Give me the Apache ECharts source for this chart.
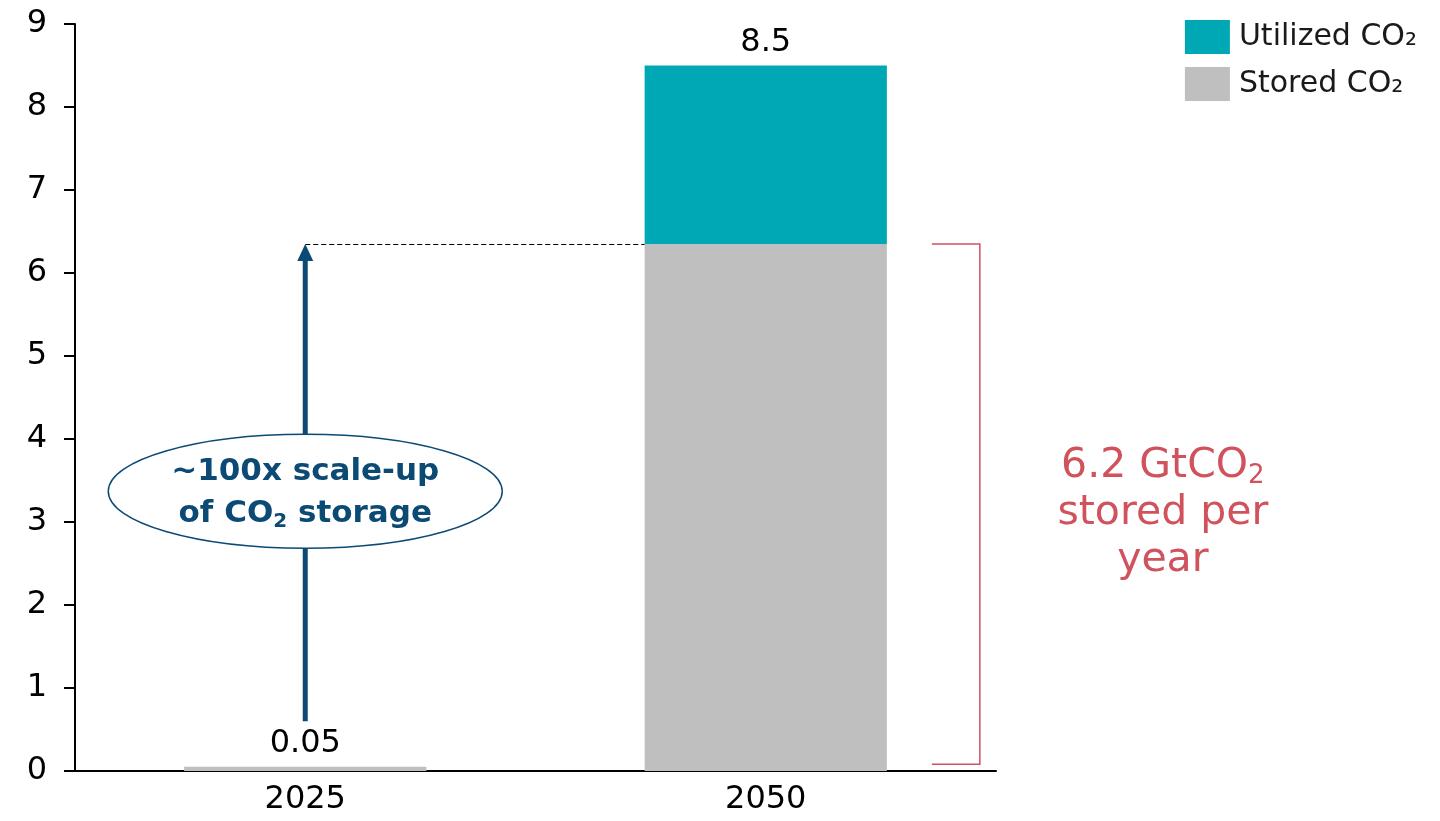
<!DOCTYPE html>
<html>
<head>
<meta charset="utf-8">
<script src="https://cdn.jsdelivr.net/npm/echarts@6/dist/echarts.min.js"></script>
<style>
html,body{margin:0;padding:0;background:#fff;}
#chart{width:1440px;height:821px;}
</style>
</head>
<body>
<div id="chart"></div>
<script>
const categories = ['2025', '2050'];
const storedCO2 = [0.05, 6.35];
const utilizedCO2 = [0, 2.15];
const totalLabels = ['0.05', '8.5'];
const yTicks = [0, 1, 2, 3, 4, 5, 6, 7, 8, 9];
const arrowFrom = 0.6;           // value where the scale-up arrow starts
const ellipseCenter = 3.37;      // value at centre of annotation ellipse
const bracketBottom = 0.08;      // value at bottom of the red bracket

const FONT = 'DejaVu Sans';
const chart = echarts.init(document.getElementById('chart'));

function topLabel(i, isTopSeries) {
  return { show: isTopSeries, position: 'top', distance: 7,
    formatter: totalLabels[i], fontFamily: FONT, fontSize: 32, color: '#000' };
}

const option = {
  animation: false,
  backgroundColor: '#fff',
  grid: { left: 75, right: 444, top: 24, bottom: 50, containLabel: false },
  legend: {
    right: 18, top: 15, orient: 'vertical', itemWidth: 45, itemHeight: 34, itemGap: 13,
    icon: 'rect',
    data: ['Utilized CO₂', 'Stored CO₂'],
    textStyle: { fontFamily: FONT, fontSize: 30, color: '#1a1a1a', padding: [0, 0, 0, 4] }
  },
  xAxis: {
    type: 'category', data: categories,
    axisLine: { lineStyle: { color: '#000', width: 2 } },
    axisTick: { show: false },
    axisLabel: { fontFamily: FONT, fontSize: 32, color: '#000', margin: 13 }
  },
  yAxis: {
    type: 'value', min: yTicks[0], max: yTicks[yTicks.length - 1], interval: 1,
    splitLine: { show: false },
    axisLine: { show: true, lineStyle: { color: '#000', width: 2 } },
    axisTick: { show: true, length: 11, lineStyle: { color: '#000', width: 2 } },
    axisLabel: { fontFamily: FONT, fontSize: 32, color: '#000', margin: 28 }
  },
  series: [
    {
      name: 'Stored CO₂', type: 'bar', stack: 'co2', barWidth: '52.6%',
      itemStyle: { color: '#BFBFBF' },
      data: storedCO2.map((v, i) => ({ value: v, label: topLabel(i, !(utilizedCO2[i] > 0)) }))
    },
    {
      name: 'Utilized CO₂', type: 'bar', stack: 'co2', barWidth: '52.6%',
      itemStyle: { color: '#00A8B5' },
      data: utilizedCO2.map((v, i) => ({ value: v, label: topLabel(i, utilizedCO2[i] > 0) }))
    }
  ]
};
chart.setOption(option);

// Annotations positioned through the chart's own scales
const px = (cat, val) => chart.convertToPixel({ gridIndex: 0 }, [cat, val]);
const storedTop = storedCO2[1];
const tip = px(categories[0], storedTop);
const base = px(categories[0], arrowFrom);
const barHalf = 0.526 * (px(categories[1], 0)[0] - px(categories[0], 0)[0]) / 2;
const barLeft = px(categories[1], 0)[0] - barHalf;
const barRight = px(categories[1], 0)[0] + barHalf;
const ell = px(categories[0], ellipseCenter);
const brTop = px(categories[1], storedTop)[1];
const brBot = px(categories[1], bracketBottom)[1];
const brX1 = barRight + 45, brX2 = barRight + 93;
const textX = brX2 + 183;
const textMid = px(categories[1], 3.1)[1];
const navy = '#0B4A75';
const red = '#D0525D';
const dashY = Math.round(tip[1]) + 0.5;

chart.setOption({
  graphic: [
    { type: 'line', z: 5, shape: { x1: tip[0], y1: dashY, x2: barLeft, y2: dashY },
      style: { stroke: '#000', lineWidth: 1, lineDash: [5, 3] } },
    { type: 'line', z: 5, shape: { x1: base[0], y1: base[1], x2: tip[0], y2: tip[1] + 14 },
      style: { stroke: navy, lineWidth: 5 } },
    { type: 'polygon', z: 5, shape: { points: [[tip[0], tip[1]], [tip[0] - 8, tip[1] + 17], [tip[0] + 8, tip[1] + 17]] },
      style: { fill: navy } },
    { type: 'ellipse', z: 6, shape: { cx: ell[0], cy: ell[1], rx: 197, ry: 57 },
      style: { fill: '#fff', stroke: navy, lineWidth: 1.5 } },
    { type: 'text', z: 7, x: ell[0], y: ell[1] + 2,
      style: {
        text: '{n|~100x scale-up}\n{n|of CO}{s|2}{n| storage}',
        align: 'center', verticalAlign: 'middle',
        fontFamily: FONT, fontWeight: 'bold', fontSize: 31, fill: navy, lineHeight: 42,
        rich: {
          n: { fontFamily: FONT, fontWeight: 'bold', fontSize: 31, fill: navy, lineHeight: 42 },
          s: { fontFamily: FONT, fontWeight: 'bold', fontSize: 20, fill: navy, lineHeight: 42, padding: [16, 0, 0, 0] }
        }
      } },
    { type: 'polyline', z: 5, shape: { points: [[brX1, brTop], [brX2, brTop], [brX2, brBot], [brX1, brBot]] },
      style: { stroke: red, lineWidth: 1.5, fill: null } },
    { type: 'text', z: 5, x: textX, y: textMid,
      style: {
        text: '{n|6.2 GtCO}{s|2}\n{n|stored per}\n{n|year}',
        align: 'center', verticalAlign: 'middle',
        fontFamily: FONT, fontSize: 41, fill: red, lineHeight: 47,
        rich: {
          n: { fontFamily: FONT, fontSize: 41, fill: red, lineHeight: 47 },
          s: { fontFamily: FONT, fontSize: 26, fill: red, lineHeight: 47, padding: [20, 0, 0, 0] }
        }
      } }
  ]
});
</script>
</body>
</html>
